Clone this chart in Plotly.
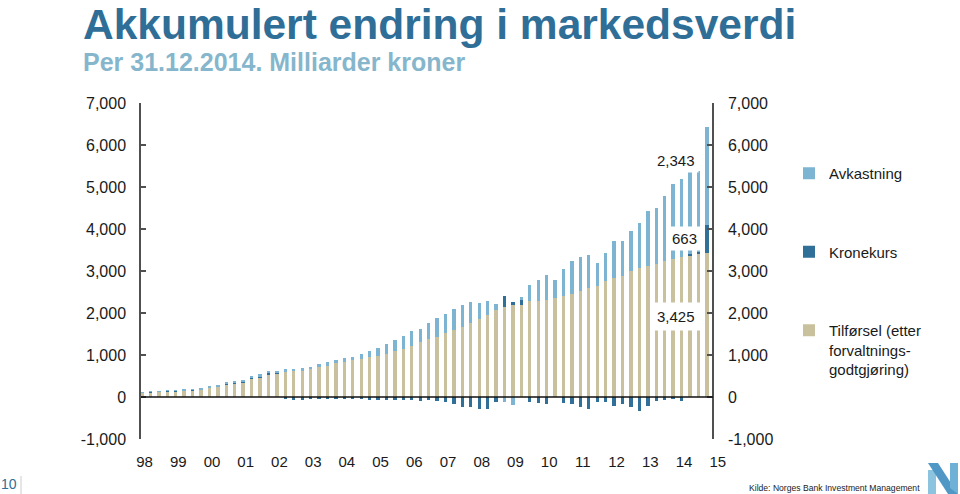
import plotly.graph_objects as go

# ---------------- data (NOK bn, accumulated, quarterly 1998Q1-2014Q4) ----------------
tilforsel = [100, 112, 120, 140, 142, 148, 160, 172, 215, 240, 290, 318, 352, 440,
             475, 545, 565, 600, 620, 640, 670, 715, 750, 810, 845, 870, 910, 955,
             970, 1018, 1097, 1136, 1223, 1302, 1381, 1436, 1515, 1594, 1673, 1752, 1854,
             1949, 2067, 2146, 2186, 2201, 2280, 2296, 2320, 2359, 2399, 2454, 2525, 2596, 2640,
             2754, 2833, 2888, 2990, 3069, 3108, 3172, 3227, 3282, 3330, 3369, 3400, 3425]
kronekurs = [6, 8, 10, 12, 10, 10, 12, 14, 15, 18, 20, 22, 24, 22,
             10, 15, 5, -50, -70, -75, -30, -25, -25, -30, -25, -25, -30, -80,
             -70, -80, -80, -60, -80, -100, -70, -90, -110, -166, -245, -229, -276,
             -284, -118, 260, 79, 126, -118, -142, -158, 0, -142, -166, -237, -284, -122,
             -110, -221, -158, -237, -323, -221, -95, -79, -47, -87, 24, 63, 663]
avkastning = [12, 14, 12, 14, 14, 16, 17, 19, 22, 26, 29, 31, 34, 43,
              52, 48, 53, 55, 51, 47, 56, 74, 79, 74, 78, 85, 108, 142,
              190, 236, 268, 316, 347, 315, 378, 434, 473, 497, 513, 505, 379,
              331, 150, -118, -197, 47, 379, 489, 584, 426, 639, 781, 805, 789, 540,
              670, 883, 828, 971, 1081, 1310, 1325, 1562, 1783, 1862, 1988, 1918, 2343]
year_labels = ["98", "99", "00", "01", "02", "03", "04", "05", "06", "07", "08",
               "09", "10", "11", "12", "13", "14", "15"]
y_tick_values = [-1000, 0, 1000, 2000, 3000, 4000, 5000, 6000, 7000]
y_tick_labels = ["-1,000", "0", "1,000", "2,000", "3,000", "4,000", "5,000", "6,000", "7,000"]

quarters = list(range(len(tilforsel)))
year_ticks = [4 * i + 0.3 for i in range(len(year_labels))]

C_TIL = "#c9c09d"
C_KRO = "#2f6f98"
C_AVK = "#7db4d1"
TITLE_BLUE = "#2f6e97"
FONT = "Liberation Sans, Arial, Helvetica, sans-serif"

W, H = 960, 494
# plot area in screen pixels
L, R, T, B = 141, 725, 103, 439


def px(x):
    return (x - L) / (R - L)


def py(y):
    return (B - y) / (B - T)


fig = go.Figure()
fig.add_bar(x=quarters, y=tilforsel, name="Tilførsel (etter<br>forvaltnings-<br>godtgjøring)",
            marker_color=C_TIL, width=0.4, legendgroup="c", legendrank=3, marker_line_width=0)
fig.add_bar(x=quarters, y=kronekurs, name="Kronekurs", marker_color=C_KRO, width=0.4,
            legendgroup="b", legendrank=2, marker_line_width=0)
fig.add_bar(x=quarters, y=avkastning, name="Avkastning", marker_color=C_AVK, width=0.4,
            legendgroup="a", legendrank=1, marker_line_width=0)
# invisible helper so the right-hand axis is drawn
fig.add_scatter(x=quarters, y=tilforsel, yaxis="y2", mode="lines", line=dict(width=0),
                opacity=0, showlegend=False, hoverinfo="skip")

axis_right_pos = px(713)

fig.update_layout(
    width=W, height=H,
    margin=dict(l=L, r=W - R, t=T, b=H - B, pad=0),
    paper_bgcolor="white", plot_bgcolor="white",
    barmode="relative", bargap=0,
    font=dict(family=FONT, size=16, color="#1a1a1a"),
    showlegend=True,
    legend=dict(x=px(789), y=py(157), xanchor="left", yanchor="top",
                traceorder="grouped", tracegroupgap=56, valign="top",
                font=dict(size=15, color="#1a1a1a"), bgcolor="rgba(0,0,0,0)",
                itemwidth=30),
    xaxis=dict(range=[-0.12, -0.12 + (R - L) / 8.43], showgrid=False, zeroline=False,
               showline=False, ticks="", tickvals=year_ticks, ticktext=year_labels,
               tickfont=dict(size=15, color="#1a1a1a"), ticklabelstandoff=12),
    yaxis=dict(range=[-1000, 7000], showgrid=False, zeroline=False, showline=True,
               linecolor="#505050", linewidth=1.5, ticks="inside", ticklen=5,
               tickcolor="#505050", tickwidth=1.5, tickvals=y_tick_values,
               ticktext=y_tick_labels, tickfont=dict(size=16, color="#1a1a1a"),
               ticklabelstandoff=10),
    yaxis2=dict(range=[-1000, 7000], overlaying="y", side="right", anchor="free",
                position=axis_right_pos, showgrid=False, zeroline=False, showline=True,
                linecolor="#505050", linewidth=1.5, ticks="inside", ticklen=5,
                tickcolor="#505050", tickwidth=1.5, tickvals=y_tick_values,
                ticktext=y_tick_labels, tickfont=dict(size=16, color="#1a1a1a"),
                ticklabelstandoff=11),
)

# zero line between the two axes
fig.add_shape(type="line", xref="paper", yref="y", x0=0, x1=axis_right_pos, y0=0, y1=0,
              line=dict(color="#111111", width=1.5), layer="above")

# value labels for last quarter
last = len(tilforsel) - 1
fig.add_annotation(x=63.3, y=5634, xref="x", yref="y", text=f"{avkastning[last]:,}",
                   showarrow=False, font=dict(size=15, color="#1a1a1a"), bgcolor="white",
                   borderpad=3)
fig.add_annotation(x=64.3, y=3764, xref="x", yref="y", text=f"{kronekurs[last]:,}",
                   showarrow=False, font=dict(size=15, color="#1a1a1a"), bgcolor="white",
                   borderpad=3)
fig.add_annotation(x=63.3, y=1918, xref="x", yref="y", text=f"{tilforsel[last]:,}",
                   showarrow=False, font=dict(size=15, color="#1a1a1a"), bgcolor="white",
                   borderpad=5)

# titles
fig.add_annotation(x=px(82), y=py(0), xref="paper", yref="paper", xanchor="left",
                   yanchor="top", showarrow=False, text="<b>Akkumulert endring i markedsverdi</b>",
                   font=dict(size=42.5, color=TITLE_BLUE, family=FONT), borderpad=0)
fig.add_annotation(x=px(82), y=py(62), xref="paper", yref="paper", xanchor="left",
                   yanchor="middle", showarrow=False, text="<b>Per 31.12.2014. Milliarder kroner</b>",
                   font=dict(size=25, color="#86b6cc", family=FONT), borderpad=0)

# footer
fig.add_annotation(x=px(9), y=py(484), xref="paper", yref="paper", xanchor="center",
                   yanchor="middle", showarrow=False, text="10",
                   font=dict(size=14, color=TITLE_BLUE, family=FONT))
fig.add_shape(type="line", xref="paper", yref="paper", x0=px(21), x1=px(21),
              y0=py(476), y1=py(494), line=dict(color="#cccccc", width=1))
fig.add_annotation(x=px(922), y=py(488), xref="paper", yref="paper", xanchor="right",
                   yanchor="middle", showarrow=False,
                   text="Kilde: Norges Bank Investment Management",
                   font=dict(size=8.6, color="#222222", family=FONT))

# logo (stylised N)
fig.add_shape(type="path", xref="paper", yref="paper",
              path=f"M{px(928)},{py(470)} L{px(936)},{py(470)} L{px(936)},{py(494)} L{px(928)},{py(494)} Z",
              fillcolor="#8cc3df", line_width=0)
fig.add_shape(type="path", xref="paper", yref="paper",
              path=f"M{px(928)},{py(463)} L{px(938)},{py(463)} L{px(958)},{py(494)} L{px(948)},{py(494)} Z",
              fillcolor="#4f98c6", line_width=0)
fig.add_shape(type="path", xref="paper", yref="paper",
              path=f"M{px(950)},{py(463)} L{px(958)},{py(463)} L{px(958)},{py(494)} L{px(950)},{py(488)} Z",
              fillcolor="#6fb0d6", line_width=0)

# the page body has a default 8px margin; remove it so the figure fills the window
fig.write_html("out.html", config={"displayModeBar": False},
               post_script="document.body.style.margin='0px';")
